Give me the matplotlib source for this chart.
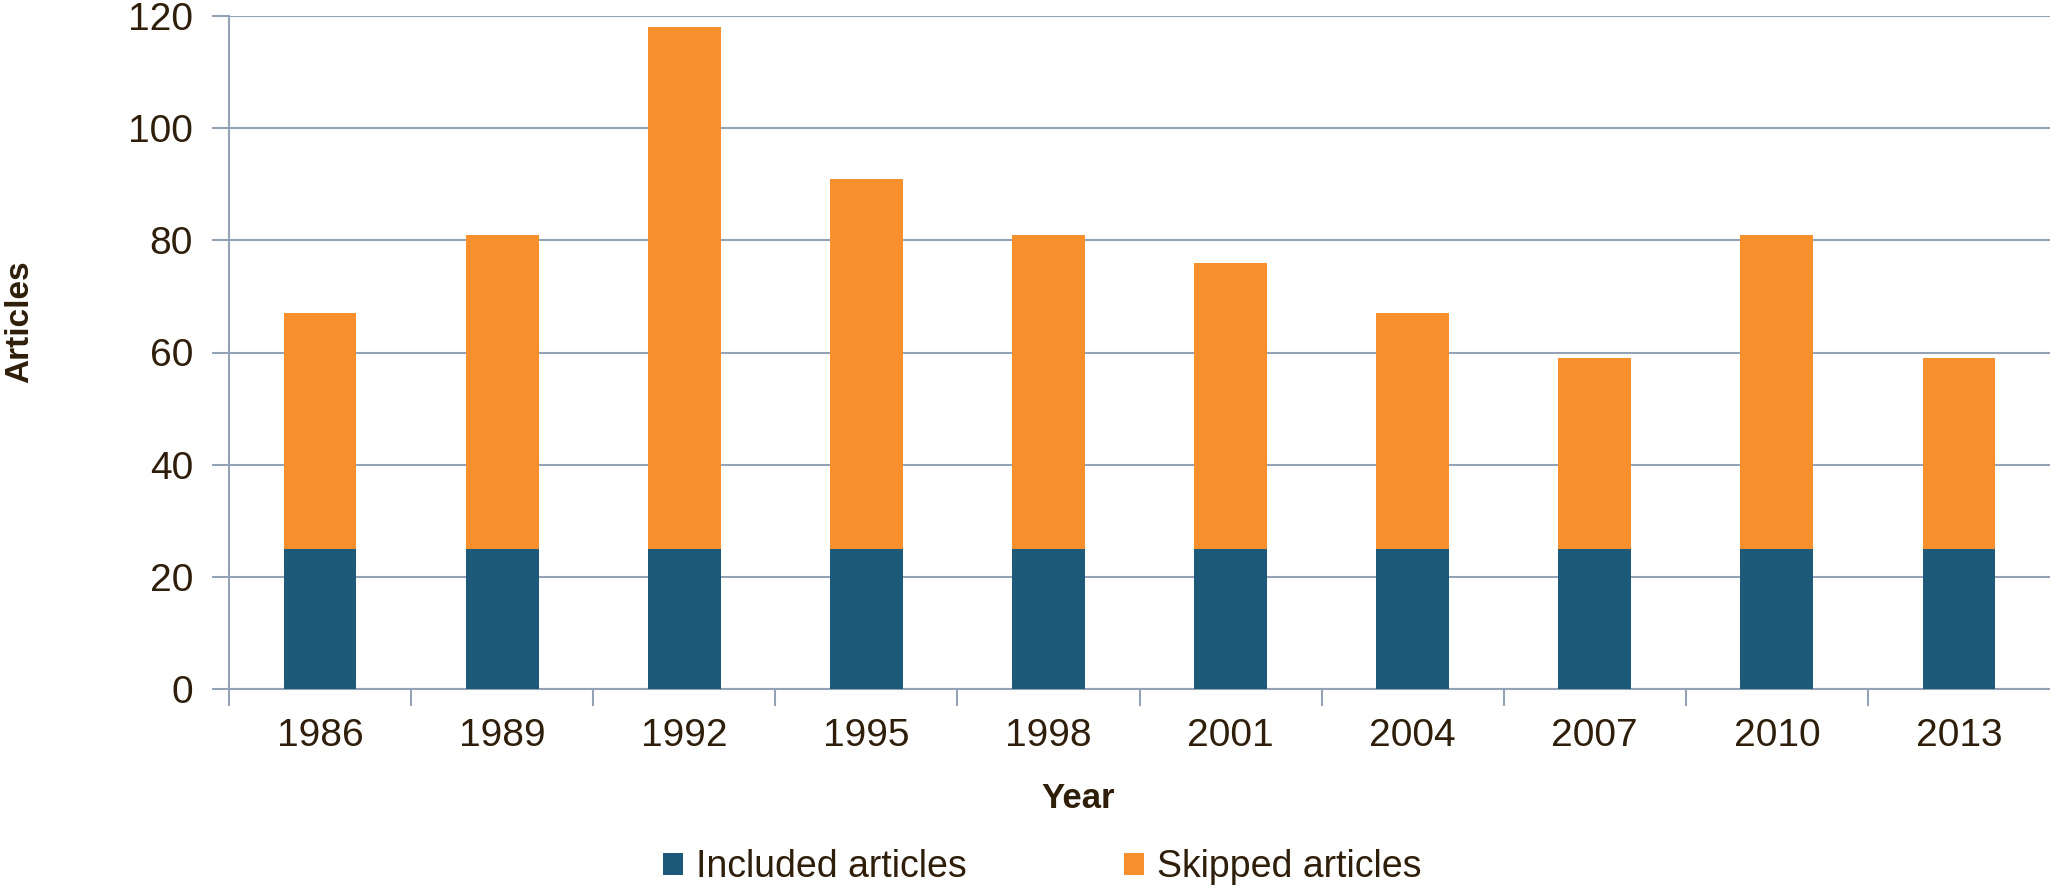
import matplotlib
matplotlib.use("Agg")
import matplotlib.pyplot as plt
import numpy as np

# data
years = ['1986', '1989', '1992', '1995', '1998', '2001', '2004', '2007', '2010', '2013']
included = [25, 25, 25, 25, 25, 25, 25, 25, 25, 25]
skipped = [42, 56, 93, 66, 56, 51, 42, 34, 56, 34]

blue = '#1d5a7a'
orange = '#f78f2d'
text_col = '#2e1e0a'
grid_col = '#93a3b5'

plt.rcParams['font.family'] = ['Liberation Sans', 'DejaVu Sans']

fig = plt.figure(figsize=(20.5, 8.9), dpi=100)
ax = fig.add_axes([229 / 2050, 1 - 689 / 890, 1 - 229 / 2050, (689 - 16) / 890])

x = np.arange(len(years))
ax.bar(x, included, width=0.4, color=blue, label='Included articles', zorder=3)
ax.bar(x, skipped, width=0.4, bottom=included, color=orange,
       label='Skipped articles', zorder=3)

ax.set_xlim(-0.5, len(years) - 0.5)
ax.set_ylim(0, 120)
ax.set_yticks(range(0, 121, 20))
ax.yaxis.grid(True, color=grid_col, linewidth=1.5, zorder=0)
ax.set_axisbelow(True)

# labels on bar centres, tick marks between the categories
ax.set_xticks(x)
ax.set_xticklabels(years)
ax.set_xticks(np.arange(-0.5, len(years) - 0.5), minor=True)
ax.tick_params(axis='x', which='major', length=0, pad=21, labelsize=28, labelcolor=text_col)
ax.tick_params(axis='x', which='minor', length=12, width=1.5, color=grid_col)
ax.tick_params(axis='y', length=12, width=1.5, color=grid_col, pad=14,
               labelsize=28, labelcolor=text_col)

for s in ['top', 'right']:
    ax.spines[s].set_visible(False)
ax.spines['left'].set_color(grid_col)
ax.spines['left'].set_linewidth(1.5)
ax.spines['bottom'].set_color(grid_col)
ax.spines['bottom'].set_linewidth(1.5)

fig.text(1078 / 2050, 1 - 798 / 890, 'Year', ha='center', va='center',
         fontsize=25, fontweight='bold', color=text_col)
fig.text(20 / 2050, 1 - 322 / 890, 'Articles', ha='center', va='center',
         rotation=90, fontsize=24, fontweight='bold', color=text_col)

fig.legend(loc='center', bbox_to_anchor=(1042 / 2050, 1 - 867 / 890), ncol=2,
           frameon=False, fontsize=27, labelcolor=text_col,
           handlelength=0.53, handleheight=0.51, handletextpad=0.35,
           columnspacing=4.2)

fig.savefig('out.png', dpi=100)
